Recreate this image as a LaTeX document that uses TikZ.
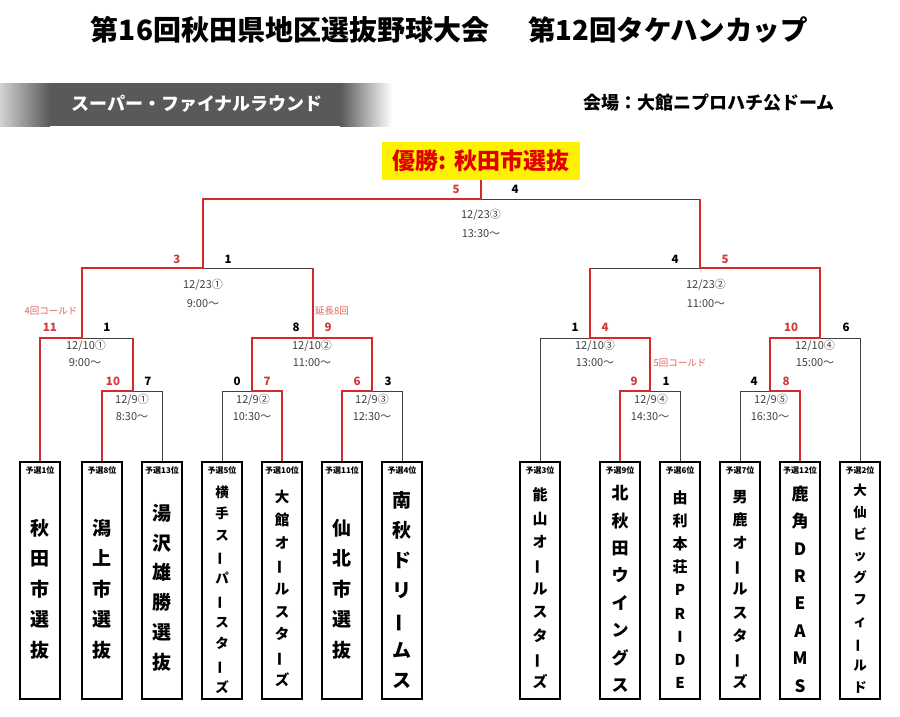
\documentclass[tikz,border=0pt]{standalone}
\usepackage{fontspec}
\setmainfont{Noto Sans CJK JP}
\definecolor{wred}{HTML}{D42A2A}
\definecolor{lgray}{HTML}{404040}
\definecolor{sred}{HTML}{D03A3A}
\definecolor{nred}{HTML}{E06060}
\definecolor{bgray}{HTML}{595959}
\definecolor{cred}{HTML}{E00000}
\newcommand\vbar{\rotatebox[origin=c]{90}{ー}}
\begin{document}
\begin{tikzpicture}[x=1pt,y=-1pt,
  win/.style={draw=wred,line width=2.6pt,line join=miter},
  lose/.style={draw=lgray,line width=1pt},
  team/.style={draw=black,line width=1.8pt,minimum width=40pt,minimum height=237pt,anchor=north,inner sep=0pt},
  rank/.style={font=\bfseries\fontsize{8}{8}\selectfont,inner sep=0pt},
  nm/.style 2 args={font=\bfseries\fontsize{#1}{#2}\selectfont,align=center,inner sep=0pt},
  sc/.style={font=\bfseries\fontsize{11.5}{11.5}\selectfont,inner sep=0pt},
  scw/.style={sc,text=sred},
  dt/.style={font=\fontsize{11}{11}\selectfont,text=lgray,inner sep=0pt},
  note/.style={font=\fontsize{9.5}{9.5}\selectfont,text=nred,inner sep=0pt}]
\useasboundingbox (0,0) rectangle (900,716);

% header
\node[font=\bfseries\fontsize{28}{28}\selectfont] (title1) at (290,30) {第16回秋田県地区選抜野球大会};
\node[font=\bfseries\fontsize{27.5}{27.5}\selectfont] (title2) at (668,30) {第12回タケハンカップ};
\shade[left color=gray!35,right color=bgray] (0,83) rectangle (50,126);
\fill[bgray] (49.5,83) rectangle (340.5,126);
\shade[left color=bgray,right color=white] (340,83) rectangle (392,126);
\node[font=\bfseries\fontsize{18}{18}\selectfont,text=white] (round) at (197,104) {スーパー・ファイナルラウンド};
\node[font=\bfseries\fontsize{18}{18}\selectfont] (venue) at (709,103) {会場：大館ニプロハチ公ドーム};

% champion
\node[fill=yellow,minimum width=198pt,minimum height=38pt,inner sep=0pt,
      font=\bfseries\fontsize{23}{23}\selectfont,text=cred] (champ) at (481,161) {優勝: 秋田市選抜};

% junction coordinates
\coordinate (F) at (481,199); \coordinate (FL) at (203,199); \coordinate (FR) at (700,199);
\coordinate (SL) at (203,268); \coordinate (SLL) at (82,268); \coordinate (SLR) at (313,268);
\coordinate (SR) at (700,268); \coordinate (SRL) at (590,268); \coordinate (SRR) at (820,268);
\coordinate (Q1) at (82,338); \coordinate (Q1L) at (40,338); \coordinate (Q1R) at (133,338);
\coordinate (Q2) at (313,338); \coordinate (Q2L) at (252,338); \coordinate (Q2R) at (372,338);
\coordinate (Q3) at (590,338); \coordinate (Q3L) at (540,338); \coordinate (Q3R) at (650,338);
\coordinate (Q4) at (820,338); \coordinate (Q4L) at (770,338); \coordinate (Q4R) at (860,338);
\coordinate (r1) at (133,391); \coordinate (r1L) at (102,391); \coordinate (r1R) at (162,391);
\coordinate (r2) at (252,391); \coordinate (r2L) at (222,391); \coordinate (r2R) at (282,391);
\coordinate (r3) at (372,391); \coordinate (r3L) at (342,391); \coordinate (r3R) at (402,391);
\coordinate (r4) at (650,391); \coordinate (r4L) at (620,391); \coordinate (r4R) at (680,391);
\coordinate (r5) at (770,391); \coordinate (r5L) at (740,391); \coordinate (r5R) at (800,391);

% team boxes
\foreach \i/\x in {1/40,2/102,3/162,4/222,5/282,6/342,7/402,8/540,9/620,10/680,11/740,12/800,13/860}
  \node[team] (t\i) at (\x,461) {};
\node[rank] (k1) at (40,470) {予選1位};
\node[rank] (k2) at (102,470) {予選8位};
\node[rank] (k3) at (162,470) {予選13位};
\node[rank] (k4) at (222,470) {予選5位};
\node[rank] (k5) at (282,470) {予選10位};
\node[rank] (k6) at (342,470) {予選11位};
\node[rank] (k7) at (402,470) {予選4位};
\node[rank] (k8) at (540,470) {予選3位};
\node[rank] (k9) at (620,470) {予選9位};
\node[rank] (k10) at (680,470) {予選6位};
\node[rank] (k11) at (740,470) {予選7位};
\node[rank] (k12) at (800,470) {予選12位};
\node[rank] (k13) at (860,470) {予選2位};

\node[nm={19}{30.5}] (n1) at (40,589) {秋\\田\\市\\選\\抜};
\node[nm={19}{30.5}] (n2) at (102,589) {潟\\上\\市\\選\\抜};
\node[nm={19}{29.8}] (n3) at (162,587.5) {湯\\沢\\雄\\勝\\選\\抜};
\node[nm={13.5}{21.7}] (n4) at (222,589.5) {横\\手\\ス\\\vbar\\パ\\\vbar\\ス\\タ\\\vbar\\ズ};
\node[nm={14.5}{22.9}] (n5) at (282,588.5) {大\\館\\オ\\\vbar\\ル\\ス\\タ\\\vbar\\ズ};
\node[nm={19}{30.5}] (n6) at (342,589) {仙\\北\\市\\選\\抜};
\node[nm={19}{30}] (n7) at (402,590) {南\\秋\\ド\\リ\\\vbar\\ム\\ス};
\node[nm={15}{23.4}] (n8) at (540,588.5) {能\\山\\オ\\\vbar\\ル\\ス\\タ\\\vbar\\ズ};
\node[nm={17}{27.4}] (n9) at (620,589) {北\\秋\\田\\ウ\\イ\\ン\\グ\\ス};
\node[nm={15}{23.1}] (n10) at (680,589.5) {由\\利\\本\\荘\\P\\R\\I\\D\\E};
\node[nm={15}{23.1}] (n11) at (740,589.5) {男\\鹿\\オ\\\vbar\\ル\\ス\\タ\\\vbar\\ズ};
\node[nm={17}{27.4}] (n12) at (800,589) {鹿\\角\\D\\R\\E\\A\\M\\S};
\node[nm={13.5}{21.9}] (n13) at (860,588.5) {大\\仙\\ビ\\ッ\\グ\\フ\\ィ\\\vbar\\ル\\ド};

% losing (gray) connectors
\draw[lose] (F) -- (FR);
\draw[lose] (SL) -- (SLR);
\draw[lose] (SR) -- (SRL);
\draw[lose] (Q1) -- (Q1R);
\draw[lose] (t8.north) -- (Q3L) -- (Q3);
\draw[lose] (Q4) -- (Q4R) -- (t13.north);
\draw[lose] (r1) -- (r1R) -- (t3.north);
\draw[lose] (t4.north) -- (r2L) -- (r2);
\draw[lose] (r3) -- (r3R) -- (t7.north);
\draw[lose] (r4) -- (r4R) -- (t10.north);
\draw[lose] (t11.north) -- (r5L) -- (r5);

% winning (red) connectors
\draw[win] (champ.south) -- (F) -- (FL) -- (SL) -- (SLL) -- (Q1) -- (Q1L) -- (t1.north);
\draw[win] (FR) -- (SR) -- (SRR) -- (Q4) -- (Q4L) -- (r5) -- (r5R) -- (t12.north);
\draw[win] (SLR) -- (Q2) -- (Q2R) -- (r3) -- (r3L) -- (t6.north);
\draw[win] (Q2) -- (Q2L) -- (r2) -- (r2R) -- (t5.north);
\draw[win] (Q1R) -- (r1) -- (r1L) -- (t2.north);
\draw[win] (SRL) -- (Q3) -- (Q3R) -- (r4) -- (r4L) -- (t9.north);

% scores
\node[scw] (sF1) at (456,189) {5}; \node[sc] (sF2) at (515,189) {4};
\node[scw] (sS1) at (177,259) {3}; \node[sc] (sS2) at (228,259) {1};
\node[sc] (sS3) at (675,259) {4}; \node[scw] (sS4) at (725,259) {5};
\node[scw] (sQ1a) at (50,327) {11}; \node[sc] (sQ1b) at (107,327) {1};
\node[sc] (sQ2a) at (296,327) {8}; \node[scw] (sQ2b) at (328,327) {9};
\node[sc] (sQ3a) at (575,327) {1}; \node[scw] (sQ3b) at (605,327) {4};
\node[scw] (sQ4a) at (791,327) {10}; \node[sc] (sQ4b) at (846,327) {6};
\node[scw] (sr1a) at (113,381) {10}; \node[sc] (sr1b) at (148,381) {7};
\node[sc] (sr2a) at (237,381) {0}; \node[scw] (sr2b) at (267,381) {7};
\node[scw] (sr3a) at (357,381) {6}; \node[sc] (sr3b) at (388,381) {3};
\node[scw] (sr4a) at (634,381) {9}; \node[sc] (sr4b) at (666,381) {1};
\node[sc] (sr5a) at (754,381) {4}; \node[scw] (sr5b) at (786,381) {8};

% dates
\node[dt] (dF1) at (481,215) {12/23③}; \node[dt] (dF2) at (481,234) {13:30～};
\node[dt] (dS1) at (203,285) {12/23①}; \node[dt] (dS2) at (203,304) {9:00～};
\node[dt] (dS3) at (706,285) {12/23②}; \node[dt] (dS4) at (706,304) {11:00～};
\node[dt] (dQ1a) at (86,346) {12/10①}; \node[dt] (dQ1b) at (85,363) {9:00～};
\node[dt] (dQ2a) at (312,346) {12/10②}; \node[dt] (dQ2b) at (312,363) {11:00～};
\node[dt] (dQ3a) at (595,346) {12/10③}; \node[dt] (dQ3b) at (595,363) {13:00～};
\node[dt] (dQ4a) at (815,346) {12/10④}; \node[dt] (dQ4b) at (815,363) {15:00～};
\node[dt] (dr1a) at (132,400) {12/9①}; \node[dt] (dr1b) at (132,417) {8:30～};
\node[dt] (dr2a) at (253,400) {12/9②}; \node[dt] (dr2b) at (252,417) {10:30～};
\node[dt] (dr3a) at (372,400) {12/9③}; \node[dt] (dr3b) at (372,417) {12:30～};
\node[dt] (dr4a) at (651,400) {12/9④}; \node[dt] (dr4b) at (650,417) {14:30～};
\node[dt] (dr5a) at (771,400) {12/9⑤}; \node[dt] (dr5b) at (770,417) {16:30～};

% notes
\node[note] (nt1) at (51,311) {4回コールド};
\node[note] (nt2) at (332,311) {延長8回};
\node[note] (nt3) at (680,363) {5回コールド};
\end{tikzpicture}
\end{document}
